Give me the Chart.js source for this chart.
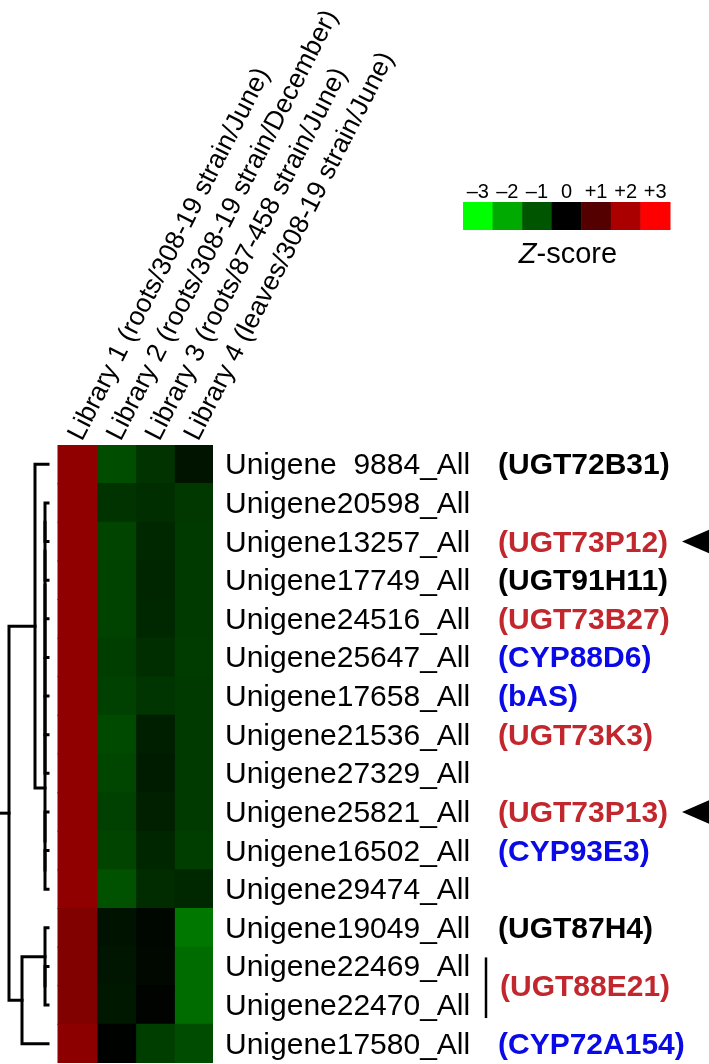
<!DOCTYPE html>
<html>
<head>
<meta charset="utf-8">
<script src="https://cdn.jsdelivr.net/npm/chart.js@4.4.1/dist/chart.umd.min.js"></script>
<style>
    html, body { margin: 0; padding: 0; background: #fff; }
    #wrap { position: relative; width: 709px; height: 1064px; }
</style>
</head>
<body>
<div id="wrap"><canvas id="heatmap"></canvas></div>
<script>
const FONT = "'Liberation Sans', Arial, sans-serif";

// heatmap rows, top to bottom
const genes = [
    'Unigene  9884_All', 'Unigene20598_All', 'Unigene13257_All', 'Unigene17749_All',
    'Unigene24516_All', 'Unigene25647_All', 'Unigene17658_All', 'Unigene21536_All',
    'Unigene27329_All', 'Unigene25821_All', 'Unigene16502_All', 'Unigene29474_All',
    'Unigene19049_All', 'Unigene22469_All', 'Unigene22470_All', 'Unigene17580_All',
];

const libraries = [
    'Library 1 (roots/308-19 strain/June)',
    'Library 2 (roots/308-19 strain/December)',
    'Library 3 (roots/87-458 strain/June)',
    'Library 4 (leaves/308-19 strain/June)',
];

// Z-scores per library (one value per gene row)
const lib1Z = [1.69, 1.69, 1.69, 1.69, 1.69, 1.69, 1.69, 1.69, 1.69, 1.69, 1.69, 1.69, 1.52, 1.52, 1.52, 1.66];
const lib2Z = [-0.90, -0.60, -0.80, -0.78, -0.78, -0.73, -0.75, -0.87, -0.82, -0.75, -0.80, -0.96, -0.21, -0.26, -0.28, -0.02];
const lib3Z = [-0.60, -0.54, -0.47, -0.45, -0.47, -0.54, -0.61, -0.35, -0.33, -0.38, -0.45, -0.52, -0.07, -0.09, -0.04, -0.73];
const lib4Z = [-0.24, -0.66, -0.68, -0.68, -0.68, -0.70, -0.68, -0.68, -0.68, -0.68, -0.73, -0.47, -1.41, -1.27, -1.27, -0.89];

// gene annotations: rows they belong to, text, kind
const annotationRows = [[0], [2], [3], [4], [5], [6], [7], [9], [10], [12], [13, 14], [15]];
const annotationText = ['(UGT72B31)', '(UGT73P12)', '(UGT91H11)', '(UGT73B27)', '(CYP88D6)', '(bAS)',
    '(UGT73K3)', '(UGT73P13)', '(CYP93E3)', '(UGT87H4)', '(UGT88E21)', '(CYP72A154)'];
const annotationKind = ['other', 'candidate', 'other', 'candidate', 'pathway', 'pathway',
    'candidate', 'candidate', 'pathway', 'other', 'candidate', 'pathway'];
const arrowRows = [2, 9];

// row dendrogram as a linkage list: [childA, childB, height]; ids >= 16 are earlier merges
const linkage = [
    [1, 2, 0.3], [16, 3, 0.3], [17, 4, 0.3], [18, 5, 0.3], [19, 6, 0.3], [20, 7, 0.3],
    [21, 8, 0.3], [10, 11, 0.3], [9, 23, 0.3], [22, 24, 0.3], [0, 25, 1.3],
    [13, 14, 0.3], [12, 27, 0.3], [28, 15, 2.6], [26, 29, 3.9],
];
const rootHeight = 4.8;

// colour key
const zTicks = [-3, -2, -1, 0, 1, 2, 3];
const zTickLabels = ['\u20133', '\u20132', '\u20131', '0', '+1', '+2', '+3'];

const kindColors = { other: '#000000', candidate: '#c1272d', pathway: '#0a0ae6' };

function zColor(z) {
    const v = Math.min(255, Math.round(Math.abs(z) * 85));
    return z >= 0 ? `rgb(${v},0,0)` : `rgb(0,${v},0)`;
}

function dendrogramSegments() {
    const nodes = genes.map((g, i) => ({ h: 0, y: i }));
    const segs = [];
    linkage.forEach(([a, b, h]) => {
        const A = nodes[a];
        const B = nodes[b];
        segs.push([
            { x: A.h, y: A.y }, { x: h, y: A.y },
            { x: h, y: B.y }, { x: B.h, y: B.y },
        ]);
        nodes.push({ h, y: (A.y + B.y) / 2 });
    });
    const top = nodes[nodes.length - 1];
    segs.push([{ x: top.h, y: top.y }, { x: rootHeight, y: top.y }]);
    return segs;
}

const decorations = {
    id: 'decorations',
    afterDraw(chart) {
        const ctx = chart.ctx;
        const x = chart.scales.x;
        const y = chart.scales.y;
        const area = chart.chartArea;
        ctx.save();

        // column labels
        ctx.fillStyle = '#000';
        ctx.font = `26.5px ${FONT}`;
        ctx.textAlign = 'left';
        ctx.textBaseline = 'alphabetic';
        libraries.forEach((label, i) => {
            ctx.save();
            ctx.translate(x.getPixelForValue(i + 0.5) + 4.5, area.top - 3);
            ctx.rotate(-63 * Math.PI / 180);
            ctx.fillText(label, 0, 0);
            ctx.restore();
        });

        // row labels
        ctx.font = `30px ${FONT}`;
        genes.forEach((g, i) => {
            ctx.fillText(g, 225, y.getPixelForValue(i) + 10);
        });

        // annotations
        ctx.font = `bold 30px ${FONT}`;
        annotationRows.forEach((rows, i) => {
            const py = rows.reduce((s, r) => s + y.getPixelForValue(r), 0) / rows.length;
            ctx.fillStyle = kindColors[annotationKind[i]];
            ctx.fillText(annotationText[i], rows.length > 1 ? 500 : 498, py + 10);
            if (rows.length > 1) {
                ctx.strokeStyle = '#000';
                ctx.lineWidth = 2.5;
                ctx.beginPath();
                ctx.moveTo(486, y.getPixelForValue(rows[0]) - 9);
                ctx.lineTo(486, y.getPixelForValue(rows[rows.length - 1]) + 13);
                ctx.stroke();
            }
        });

        // arrowheads
        ctx.fillStyle = '#000';
        arrowRows.forEach((r) => {
            const py = y.getPixelForValue(r);
            ctx.beginPath();
            ctx.moveTo(682, py);
            ctx.lineTo(712, py - 13);
            ctx.lineTo(712, py + 13);
            ctx.closePath();
            ctx.fill();
        });

        // colour key
        const keyLeft = 463;
        const keyW = (670 - 463) / zTicks.length;
        zTicks.forEach((z, i) => {
            ctx.fillStyle = zColor(z);
            ctx.fillRect(keyLeft + i * keyW, 202, keyW + 0.5, 28);
        });
        ctx.fillStyle = '#000';
        ctx.font = `20px ${FONT}`;
        ctx.textAlign = 'center';
        zTickLabels.forEach((t, i) => {
            ctx.fillText(t, keyLeft + (i + 0.5) * keyW, 198);
        });
        ctx.font = `italic 29px ${FONT}`;
        const zw = ctx.measureText('Z').width;
        ctx.font = `29px ${FONT}`;
        const rw = ctx.measureText('-score').width;
        const sx = 568 - (zw + rw) / 2;
        ctx.textAlign = 'left';
        ctx.font = `italic 29px ${FONT}`;
        ctx.fillText('Z', sx, 263);
        ctx.font = `29px ${FONT}`;
        ctx.fillText('-score', sx + zw, 263);

        ctx.restore();
    },
};

const heatSets = [lib1Z, lib2Z, lib3Z, lib4Z].map((z, i) => ({
    label: libraries[i],
    data: z.map((v, row) => ({ x: 1, y: row })),
    backgroundColor: z.map(zColor),
    borderWidth: 0,
    inflateAmount: 0.6,
    grouped: false,
    barPercentage: 1,
    categoryPercentage: 1,
    xAxisID: 'x',
    yAxisID: 'y',
}));

const dendroSets = dendrogramSegments().map((seg) => ({
    type: 'line',
    data: seg,
    xAxisID: 'xd',
    yAxisID: 'y',
    indexAxis: 'x',
    borderColor: '#000',
    borderWidth: 3,
    borderCapStyle: 'square',
    borderJoinStyle: 'miter',
    pointRadius: 0,
    fill: false,
    tension: 0,
}));

new Chart(document.getElementById('heatmap'), {
    type: 'bar',
    data: { datasets: [...heatSets, ...dendroSets] },
    options: {
        indexAxis: 'y',
        responsive: true,
        maintainAspectRatio: false,
        animation: false,
        layout: { padding: { top: 445, bottom: 1, left: 0, right: 496 } },
        plugins: { legend: { display: false }, tooltip: { enabled: false } },
        scales: {
            x: { type: 'linear', stacked: true, min: -1.5, max: 4, offset: false, display: false },
            y: {
                type: 'linear',
                stacked: false,
                offset: false,
                min: -0.5,
                max: 15.5,
                reverse: true,
                display: false,
                afterBuildTicks(scale) { scale.ticks = genes.map((g, i) => ({ value: i })); },
            },
            xd: { type: 'linear', min: -16.5, max: 4.8, reverse: true, offset: false, display: false },
        },
    },
    plugins: [decorations],
});
</script>
</body>
</html>
